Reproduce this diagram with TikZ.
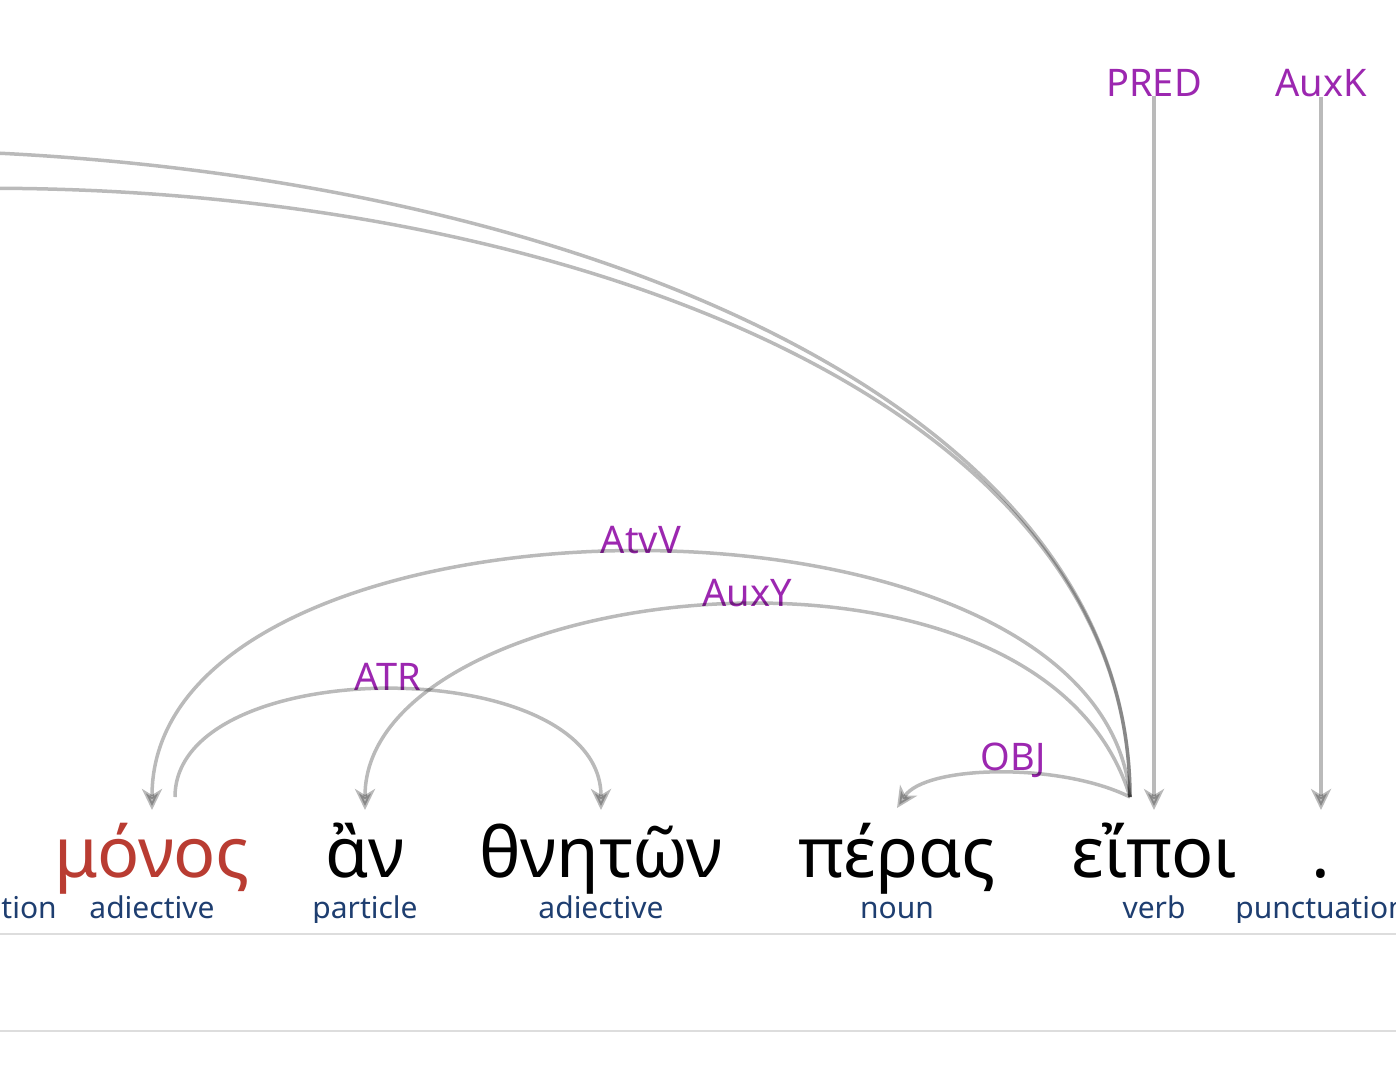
\documentclass[tikz,border=0pt]{standalone}
\usepackage{fontspec}
\setmainfont{Noto Sans}
\usetikzlibrary{arrows.meta}
\definecolor{relpurple}{RGB}{156,39,176}
\definecolor{posblue}{RGB}{30,62,112}
\definecolor{focusred}{RGB}{185,60,50}
\definecolor{rulegray}{RGB}{221,221,221}
\begin{document}
\begin{tikzpicture}[x=1pt,y=-1pt,
  word/.style={anchor=base,inner sep=0pt,font=\fontsize{70}{70}\selectfont},
  postag/.style={anchor=base,inner sep=0pt,text=posblue,font=\fontsize{30}{30}\selectfont},
  rel/.style={anchor=base,inner sep=0pt,text=relpurple,font=\fontsize{38}{38}\selectfont},
  dep/.style={line width=3.5pt,draw=black,opacity=0.27,
    -{Stealth[length=21pt,width=20pt,inset=6pt]}},
  hline/.style={line width=1.5pt,draw=rulegray}]
\useasboundingbox (0,0) rectangle (1396,1082);
\clip (0,0) rectangle (1396,1082);

% words
\node[word,text=focusred] (monos) at (152,877) {μόνος};
\node[word] (an) at (365,877) {ἂν};
\node[word] (thneton) at (601,877) {θνητῶν};
\node[word] (peras) at (897,877) {πέρας};
\node[word] (eipoi) at (1154,877) {εἴποι};
\node[word] (stop) at (1321,877) {.};

% part of speech
\begin{scope}
\clip (-100,880) rectangle (1500,922);
\node[postag] (pos0) at (-29,918) {punctuation};
\node[postag] (pos1) at (152,918) {adiective};
\node[postag] (pos2) at (365,918) {particle};
\node[postag] (pos3) at (601,918) {adiective};
\node[postag] (pos4) at (897,918) {noun};
\node[postag] (pos5) at (1154,918) {verb};
\node[postag] (pos6) at (1321,918) {punctuation};
\end{scope}

\draw[hline] (0,934) -- (1396,934);
\draw[hline] (0,1031) -- (1396,1031);

% arc ends
\coordinate (monos-in) at (152,810);
\coordinate (monos-out) at (175,797);
\coordinate (an-in) at (365,810);
\coordinate (thneton-in) at (601,810);
\coordinate (peras-in) at (897,808);
\coordinate (eipoi-in) at (1154,810);
\coordinate (eipoi-out) at (1130,797);
\coordinate (stop-in) at (1321,810);
\coordinate (far-a) at (-1330,808);
\coordinate (far-b) at (-1100,808);

% relations
\node[rel] (pred) at (1154,96) {PRED};
\node[rel] (auxk) at (1321,96) {AuxK};
\node[rel] (atvv) at (641,553) {AtvV};
\node[rel] (auxy) at (747,606) {AuxY};
\node[rel] (atr) at (388,690) {ATR};
\node[rel] (obj) at (1013,770) {OBJ};

\draw[dep] (pred.south) -- (eipoi-in);
\draw[dep] (auxk.south) -- (stop-in);
\draw[dep] (eipoi-out) .. controls (1128,-38) and (-1330,-92) .. (far-a);
\draw[dep] (eipoi-out) .. controls (1128,8) and (-1100,-36) .. (far-b);
\draw[dep] (eipoi-out) .. controls (1100,461) and (152,476) .. (monos-in);
\draw[dep] (eipoi-out) .. controls (1040,500) and (365,580) .. (an-in);
\draw[dep] (eipoi-out) .. controls (1060,762) and (925,765) .. (peras-in);
\draw[dep] (monos-out) .. controls (175,652) and (601,652) .. (thneton-in);

\end{tikzpicture}
\end{document}
